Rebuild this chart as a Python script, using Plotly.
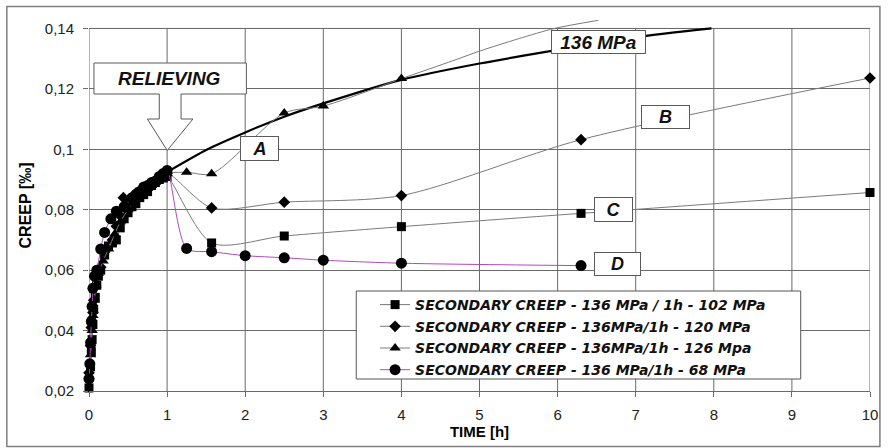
import plotly.graph_objects as go

# ---------------- data ----------------
sq_x = [0.0, 0.02, 0.03, 0.04, 0.05, 0.06, 0.08, 0.1, 0.12, 0.15, 0.2, 0.25, 0.3, 0.35, 0.4, 0.45,
        0.5, 0.55, 0.6, 0.65, 0.7, 0.75, 0.8, 0.85, 0.9, 0.95, 1.0, 1.57, 2.5, 4.0, 6.3, 10.0]
sq_y = [0.021, 0.028, 0.033, 0.037, 0.042, 0.047, 0.051, 0.055, 0.058, 0.060, 0.065, 0.068, 0.069,
        0.070, 0.074, 0.077, 0.079, 0.081, 0.082, 0.084, 0.085, 0.086, 0.088, 0.089, 0.090, 0.0905,
        0.091, 0.069, 0.0713, 0.0744, 0.0788, 0.0857]

di_x = [0.0, 0.02, 0.03, 0.05, 0.06, 0.08, 0.1, 0.15, 0.2, 0.3, 0.35, 0.4, 0.44, 0.5, 0.55, 0.6,
        0.65, 0.7, 0.75, 0.8, 0.85, 0.9, 1.0, 1.57, 2.5, 4.0, 6.3, 10.0]
di_y = [0.026, 0.035, 0.041, 0.046, 0.050, 0.055, 0.058, 0.061, 0.066, 0.070, 0.0745, 0.078, 0.084,
        0.082, 0.084, 0.0855, 0.086, 0.087, 0.0875, 0.0885, 0.089, 0.090, 0.092, 0.0806, 0.0825,
        0.0847, 0.1032, 0.1236]

tr_x = [0.0, 0.02, 0.04, 0.05, 0.07, 0.09, 0.12, 0.18, 0.25, 0.33, 0.4, 0.5, 0.55, 0.6, 0.65, 0.7,
        0.75, 0.8, 0.85, 0.9, 0.95, 1.0, 1.25, 1.57, 2.5, 3.0, 4.0]
tr_y = [0.025, 0.032, 0.040, 0.045, 0.050, 0.055, 0.059, 0.063, 0.067, 0.072, 0.076, 0.080, 0.082,
        0.084, 0.085, 0.086, 0.087, 0.088, 0.089, 0.090, 0.091, 0.092, 0.0924, 0.0919, 0.1120,
        0.1143, 0.1234]
tr_tail_x = [4.0, 4.7, 5.0, 5.5, 5.96, 6.52]
tr_tail_y = [0.1234, 0.1297, 0.1325, 0.1366, 0.1400, 0.1427]

ci_x = [0.0, 0.01, 0.02, 0.03, 0.04, 0.05, 0.07, 0.1, 0.15, 0.2, 0.28, 0.35, 0.45, 0.55, 0.6, 0.65,
        0.7, 0.75, 0.8, 0.85, 0.9, 0.95, 1.0, 1.25, 1.57, 2.0, 2.5, 3.0, 4.0, 6.3]
ci_y = [0.024, 0.029, 0.036, 0.043, 0.048, 0.054, 0.058, 0.060, 0.067, 0.0725, 0.077, 0.0795, 0.081,
        0.084, 0.085, 0.086, 0.0875, 0.088, 0.089, 0.0895, 0.091, 0.092, 0.093, 0.0672, 0.0661,
        0.0648, 0.0641, 0.0633, 0.0623, 0.0615]

ref_x = [1.0, 1.5, 2.0, 2.5, 3.0, 4.0, 5.0, 6.0, 7.0, 7.97]
ref_y = [0.0925, 0.0998, 0.1056, 0.1108, 0.1152, 0.1230, 0.1284, 0.1329, 0.1371, 0.1400]

series_names = ["SECONDARY CREEP - 136 MPa / 1h - 102 MPa",
                "SECONDARY CREEP - 136MPa/1h - 120 MPa",
                "SECONDARY CREEP - 136MPa/1h - 126 Mpa",
                "SECONDARY CREEP - 136 MPa/1h - 68 MPa"]

x_ticks = [0, 1, 2, 3, 4, 5, 6, 7, 8, 9, 10]
y_ticks = [0.02, 0.04, 0.06, 0.08, 0.10, 0.12, 0.14]
y_ticktext = ["0,02", "0,04", "0,06", "0,08", "0,1", "0,12", "0,14"]

# ---------------- layout constants ----------------
W, H = 890, 448
ML, MR, MT, MB = 89, 12, 20, 57
XR = [0, 10]
YR = [0.02, 0.1428]
PW = W - ML - MR
PH = H - MT - MB


def px2x(px):
    return XR[0] + (px - ML) / PW * (XR[1] - XR[0])


def py2y(py):
    return YR[0] + (H - MB - py) / PH * (YR[1] - YR[0])


def px2paper(px):
    return (px - ML) / PW


def py2paper(py):
    return (H - MB - py) / PH


GRID = "#6a6a6a"
FONT = "Liberation Sans, Arial, sans-serif"
LFONT = "DejaVu Sans, Liberation Sans, sans-serif"
GRAY_LINE = "#7a7a7a"
PURPLE = "#b048c0"

fig = go.Figure()

fig.add_trace(go.Scatter(x=ref_x, y=ref_y, mode="lines", showlegend=False,
                         line=dict(color="black", width=2.2, shape="spline", smoothing=0.6),
                         hoverinfo="skip"))
fig.add_trace(go.Scatter(x=tr_tail_x, y=tr_tail_y, mode="lines", showlegend=False,
                         line=dict(color=GRAY_LINE, width=1, shape="spline", smoothing=0.8),
                         hoverinfo="skip"))

specs = [
    (sq_x, sq_y, "square", 9, GRAY_LINE),
    (di_x, di_y, "diamond", 9, GRAY_LINE),
    (tr_x, tr_y, "triangle-up", 10, GRAY_LINE),
    (ci_x, ci_y, "circle", 11, PURPLE),
]
for i, (xs, ys, sym, sz, col) in enumerate(specs):
    fig.add_trace(go.Scatter(
        x=xs, y=ys, mode="lines+markers", name=series_names[i],
        legendgroup="g%d" % i, cliponaxis=False,
        line=dict(color=col, width=1, shape="spline", smoothing=0.8),
        marker=dict(symbol=sym, size=sz, color="black", line=dict(width=0)),
    ))

shapes = []
for xv in x_ticks:
    shapes.append(dict(type="line", xref="x", yref="y", x0=xv, x1=xv, y0=0.02, y1=0.14,
                       line=dict(color=GRID, width=1), layer="below"))
shapes.append(dict(type="line", xref="x", yref="y", x0=0, x1=10, y0=0.14, y1=0.14,
                   line=dict(color=GRID, width=1), layer="below"))

# RELIEVING callout (box + block arrow)
pts = [(94, 63), (248, 63), (248, 94), (182, 94), (182, 119), (194, 119), (168.0, 150.5),
       (148, 119), (160, 119), (160, 94), (94, 94)]
path = "M " + " L ".join("%.5f,%.6f" % (px2x(a), py2y(b)) for a, b in pts) + " Z"
shapes.append(dict(type="path", xref="x", yref="y", path=path, fillcolor="white",
                   line=dict(color="#5a5a5a", width=1), layer="above"))

# legend frame
shapes.append(dict(type="rect", xref="paper", yref="paper",
                   x0=px2paper(359), x1=px2paper(808), y0=py2paper(379), y1=py2paper(291),
                   line=dict(color="#555", width=1), fillcolor="white", layer="above"))

# outer chart border
shapes.append(dict(type="rect", xref="paper", yref="paper",
                   x0=px2paper(6), x1=px2paper(888), y0=py2paper(446.5), y1=py2paper(6.5),
                   line=dict(color="#7f7f7f", width=1.5), fillcolor="rgba(0,0,0,0)", layer="above"))

annotations = [
    dict(x=px2x(170), y=py2y(78.5), text="RELIEVING", showarrow=False,
         font=dict(family=FONT, size=19, color="#111", weight="bold", style="italic")),
]
boxes = [
    ("A", 261.5, 148.5, 39, 25, 18),
    ("136 MPa", 603.5, 42.4, 95, 24, 19),
    ("B", 671, 117, 49, 24, 18),
    ("C", 618.5, 209.5, 39, 25, 18),
    ("D", 622.5, 263.8, 47, 24, 18),
]
for txt, cx, cy, bw, bh, fs in boxes:
    annotations.append(dict(x=px2x(cx), y=py2y(cy), text=txt, showarrow=False,
                            width=bw - 2, height=bh - 2, borderpad=0,
                            bgcolor="white", bordercolor="#5a5a5a", borderwidth=1,
                            font=dict(family=FONT, size=fs, color="#111", weight="bold",
                                      style="italic")))

fig.update_layout(
    width=W, height=H,
    margin=dict(l=ML, r=MR, t=MT, b=MB),
    paper_bgcolor="white", plot_bgcolor="white",
    font=dict(family=FONT, color="#222"),
    shapes=shapes, annotations=annotations,
    legend=dict(x=px2paper(378), y=py2paper(289), xanchor="left", yanchor="top",
                bgcolor="rgba(0,0,0,0)", borderwidth=0,
                traceorder="grouped", tracegroupgap=0.5, itemwidth=30,
                font=dict(family=LFONT, size=14, color="#111", weight="bold", style="italic")),
    xaxis=dict(range=XR, tickvals=x_ticks, showgrid=False, zeroline=False,
               showline=True, linecolor=GRID, linewidth=1,
               ticks="outside", ticklen=5, tickcolor=GRID, ticklabelstandoff=5,
               tickfont=dict(family=FONT, size=15, color="#222"),
               title=dict(text="TIME [h]", standoff=2,
                          font=dict(family=FONT, size=15, color="black", weight="bold"))),
    yaxis=dict(range=YR, tickvals=y_ticks, ticktext=y_ticktext, showgrid=True, gridcolor=GRID,
               gridwidth=1, zeroline=False, showline=False,
               ticks="outside", ticklen=5, tickcolor=GRID, ticklabelstandoff=6,
               tickfont=dict(family=FONT, size=15, color="#222"),
               title=dict(text="CREEP [‰]", standoff=9,
                          font=dict(family=FONT, size=16, color="black", weight="bold"))),
    showlegend=True,
)

fig.write_html("out.html")
